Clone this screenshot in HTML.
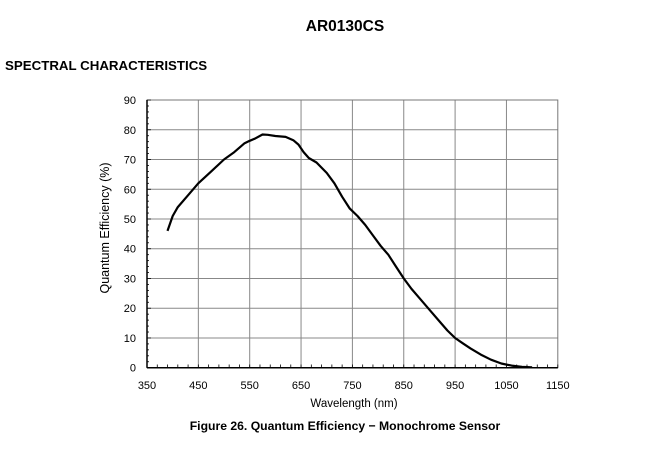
<!DOCTYPE html>
<html><head><meta charset="utf-8"><style>
body{margin:0;background:#fff;width:650px;height:455px;overflow:hidden;font-family:"Liberation Sans",sans-serif}
</style></head><body>
<svg id="s" width="650" height="455" xmlns="http://www.w3.org/2000/svg" font-family="Liberation Sans, sans-serif">
<rect width="650" height="455" fill="#fff"/>
<text x="345" y="31" font-size="15.5" font-weight="bold" text-anchor="middle">AR0130CS</text>
<text x="5" y="70" font-size="13.3" font-weight="bold">SPECTRAL CHARACTERISTICS</text>
<text x="345" y="430" font-size="12.2" font-weight="bold" text-anchor="middle">Figure 26. Quantum Efficiency − Monochrome Sensor</text>
<text x="354" y="407" font-size="11.5" text-anchor="middle">Wavelength (nm)</text>
<text transform="translate(109,228) rotate(-90)" font-size="12.5" text-anchor="middle">Quantum Efficiency (%)</text>
<g id="g"></g>
</svg>
<script>
var g=document.getElementById('g'),h='';
function X(w){return 147+(w-350)*0.5135}
function Y(q){return 367.7-q*2.974}
for(var q=10;q<=80;q+=10)h+='<line x1="147" x2="557.8" y1="'+Y(q)+'" y2="'+Y(q)+'" stroke="#888" stroke-width="1"/>';
for(var w=450;w<=1050;w+=100)h+='<line y1="100" y2="367.7" x1="'+X(w)+'" x2="'+X(w)+'" stroke="#888" stroke-width="1"/>';
h+='<rect x="147" y="100" width="410.8" height="267.7" fill="none" stroke="#777" stroke-width="1"/>';
h+='<line x1="147" x2="147" y1="100" y2="367.7" stroke="#000" stroke-width="1.5"/>';
h+='<line x1="147" x2="557.8" y1="367.7" y2="367.7" stroke="#000" stroke-width="1.5"/>';
for(var q=0;q<=90;q+=2)h+='<line x1="147" x2="'+(q%10?149:151)+'" y1="'+Y(q)+'" y2="'+Y(q)+'" stroke="#000" stroke-width="0.8"/>';
for(var w=350;w<=1150;w+=20)h+='<line y1="367.7" y2="364.5" x1="'+X(w)+'" x2="'+X(w)+'" stroke="#000" stroke-width="0.8"/>';
for(var q=0;q<=90;q+=10)h+='<text x="136" y="'+(Y(q)+4)+'" font-size="11" text-anchor="end">'+q+'</text>';
for(var w=350;w<=1150;w+=100)h+='<text x="'+X(w)+'" y="389" font-size="11" text-anchor="middle">'+w+'</text>';
var d=[[390,46],[400,51],[410,54],[430,58],[450,62],[475,66],[500,70],[520,72.5],[540,75.5],[550,76.3],[560,77],[575,78.4],[585,78.3],[600,77.9],[620,77.6],[635,76.5],[645,75],[655,72.5],[665,70.5],[680,69],[700,65.5],[715,62],[730,57.5],[745,53.5],[760,51],[775,48],[790,44.5],[805,41],[820,38],[835,34],[850,30],[865,26.5],[880,23.5],[900,19.5],[920,15.5],[935,12.5],[950,10],[965,8.2],[980,6.5],[1000,4.4],[1020,2.7],[1040,1.4],[1060,0.7],[1080,0.3],[1100,0.1]];
var p='M';d.forEach(function(a,i){p+=(i?' L':'')+X(a[0]).toFixed(1)+' '+Y(a[1]).toFixed(1)});
h+='<path d="'+p+'" fill="none" stroke="#000" stroke-width="2.2" stroke-linejoin="round"/>';
g.innerHTML=h;
</script>
</body></html>
